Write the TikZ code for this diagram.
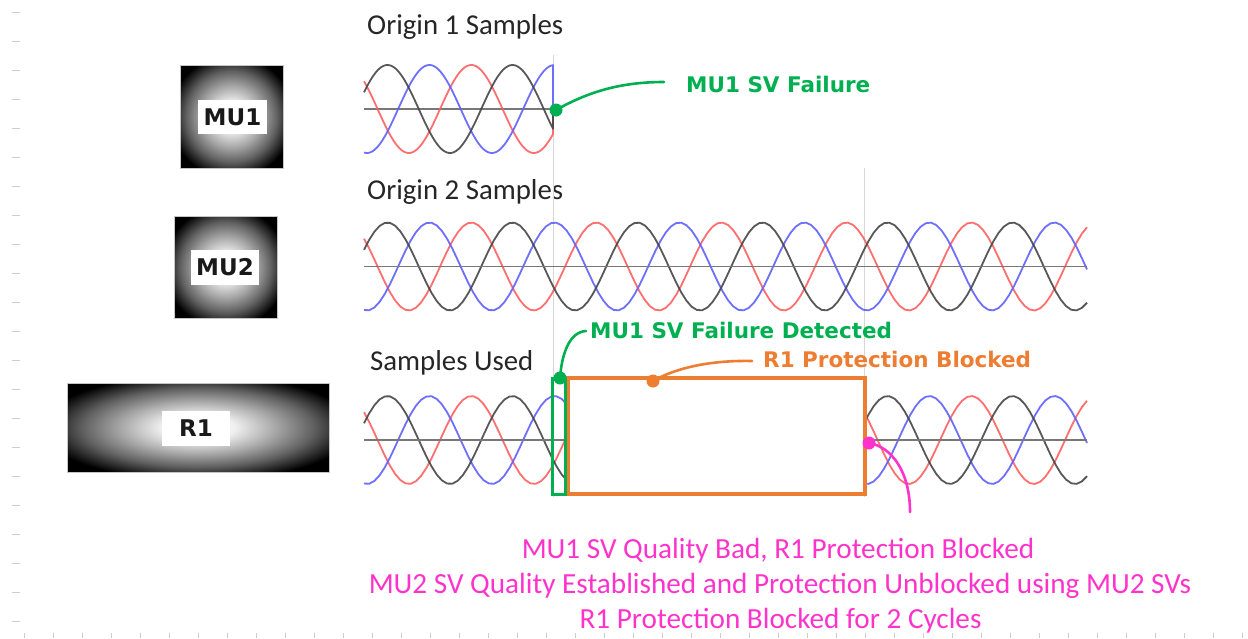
\documentclass[tikz,border=0pt]{standalone}
\usepackage{fontspec}
\setmainfont{Carlito}
\newfontfamily\labfont{DejaVu Sans}

\definecolor{svgreen}{RGB}{0,176,80}
\definecolor{svorange}{RGB}{237,125,49}
\definecolor{svpink}{RGB}{255,51,204}
\definecolor{wred}{RGB}{255,95,95}
\definecolor{wblue}{RGB}{95,95,255}
\definecolor{wblack}{RGB}{70,70,70}
\definecolor{axisgray}{RGB}{120,120,120}
\definecolor{gridgray}{RGB}{215,215,215}
\definecolor{tickgray}{RGB}{205,205,205}

% white glow fading to black, used for the device tiles
% (the tile's half-diagonal spans 50bp, so its edges sit near 35bp)
\pgfdeclareradialshading{glow}{\pgfpoint{0bp}{0bp}}{%
  color(0bp)=(white); color(7bp)=(white!94!black);
  color(15bp)=(white!65!black); color(22bp)=(white!38!black);
  color(30bp)=(black); color(50bp)=(black)}

% three-phase set: #1 centre line y, #2 first x, #3 last x (period 125, 2.88 deg per unit)
\newcommand\wavetriple[3]{%
  \draw[wave,wred]   plot[domain=#2:#3,samples=140] (\x,{-#1+44*cos(2.88*(\x-471.33))});
  \draw[wave,wblue]  plot[domain=#2:#3,samples=140] (\x,{-#1+44*cos(2.88*(\x-429.42))});
  \draw[wave,wblack] plot[domain=#2:#3,samples=140] (\x,{-#1+44*cos(2.88*(\x-387.5))});
}

\begin{document}
\begin{tikzpicture}[x=1pt,y=1pt,
  wave/.style={line width=1.8pt,line join=round,opacity=0.9},
  axisline/.style={draw=axisgray,line width=1.8pt},
  gridline/.style={draw=gridgray,line width=1pt},
  tick/.style={draw=tickgray,line width=1pt},
  title/.style={font=\fontsize{28.8}{34}\selectfont,anchor=base west,inner sep=0pt,text=black!85},
  note/.style={font=\fontsize{29.2}{35}\selectfont,anchor=base,inner sep=0pt,text=svpink},
  callout/.style={font=\labfont\bfseries\fontsize{21.5}{26}\selectfont,anchor=base west,inner sep=0pt},
  devbox/.style={shading=glow,draw=gray!45,line width=0.8pt,inner sep=0pt},
  devlab/.style={fill=white,inner sep=0pt,text=black!90,font=\labfont\bfseries\fontsize{23}{26}\selectfont},
  dot/.style={circle,inner sep=0pt,minimum size=13pt},
  link/.style={line width=2.6pt,line cap=round},
  green box/.style={draw=svgreen,line width=3pt},
  orange box/.style={draw=svorange,line width=3.6pt,fill=white},
]
\useasboundingbox (0,0) rectangle (1248,-638);

% ruler ticks along the left and bottom edges
\foreach \k in {0,...,21} \draw[tick] (12,{-12.7-29*\k}) -- (20,{-12.7-29*\k});
\foreach \k in {0,...,42} \draw[tick] ({24+29*\k},-633) -- ({24+29*\k},-638);

% device tiles
\node[devbox,minimum width=103pt,minimum height=103pt] (mu1tile) at (231.5,-116.5) {};
\node[devlab,minimum width=69pt,minimum height=34pt] (mu1) at (232.5,-117) {MU1};
\node[devbox,minimum width=103pt,minimum height=102pt] (mu2tile) at (225.5,-267) {};
\node[devlab,minimum width=68pt,minimum height=35pt] (mu2) at (225,-267.5) {MU2};
\node[devbox,minimum width=262pt,minimum height=89pt] (r1tile) at (198,-427.5) {};
\node[devlab,minimum width=68pt,minimum height=35pt] (r1) at (196,-428.5) {R1};

% panel titles
\node[title] (t1) at (367,-34) {Origin 1 Samples};
\node[title] (t2) at (367,-199) {Origin 2 Samples};
\node[title] (t3) at (370,-370) {Samples Used};

% grid lines marking the failure instant and the end of blocking
\draw[gridline] (553,-55) -- (553,-497);
\draw[gridline] (864,-168) -- (864,-497);

% origin 1: stream stops at the failure
\draw[axisline] (364,-109) -- (553,-109);
\draw[wave,wred]   plot[domain=364:553,samples=120] (\x,{-109+44*cos(2.88*(\x-471.33))}) -- (553,-109);
\draw[wave,wblue]  plot[domain=364:553,samples=120] (\x,{-109+44*cos(2.88*(\x-429.42))}) -- (553,-109);
\draw[wave,wblack] plot[domain=364:553,samples=120] (\x,{-109+44*cos(2.88*(\x-387.5))}) -- (553,-109);

% origin 2: continuous stream
\wavetriple{266.5}{364}{1087}
\draw[axisline] (364,-266.5) -- (1087,-266.5);

% samples used by R1
\wavetriple{440}{364}{1087}
\draw[axisline] (364,-440) -- (1087,-440);

% detection window and blocking interval
\draw[orange box] (568,-378) rectangle (865,-494);
\draw[green box] (552.5,-378) rectangle (565,-494);

% callouts
\node[callout,text=svgreen] (fail) at (686,-92) {MU1 SV Failure};
\node[dot,fill=svgreen] (faildot) at (556,-110) {};
\draw[link,svgreen] (faildot.center) .. controls (588,-92) and (620,-82) .. ([xshift=-22pt,yshift=10pt]fail.base west);

\node[callout,text=svgreen] (det) at (590,-338) {MU1 SV Failure Detected};
\node[dot,fill=svgreen] (detdot) at (560,-378) {};
\draw[link,svgreen] (detdot.center) .. controls (562,-352) and (570,-332) .. ([xshift=-4pt,yshift=7pt]det.base west);

\node[callout,text=svorange] (blk) at (763,-367) {R1 Protection Blocked};
\node[dot,fill=svorange] (blkdot) at (653,-381) {};
\draw[link,svorange] (blkdot.center) .. controls (672,-370) and (705,-360) .. ([xshift=-11pt,yshift=6pt]blk.base west);

\node[dot,fill=svpink] (unblkdot) at (869,-443) {};
\coordinate (unblkend) at (910,-512);
\draw[link,svpink] (unblkdot.center) .. controls (892,-447) and (910,-472) .. (unblkend);

% notes
\node[note] (n1) at (778,-558) {MU1 SV Quality Bad, R1 Protection Blocked};
\node[note] (n2) at (780,-593) {MU2 SV Quality Established and Protection Unblocked using MU2 SVs};
\node[note] (n3) at (780.5,-628) {R1 Protection Blocked for 2 Cycles};
\end{tikzpicture}
\end{document}
